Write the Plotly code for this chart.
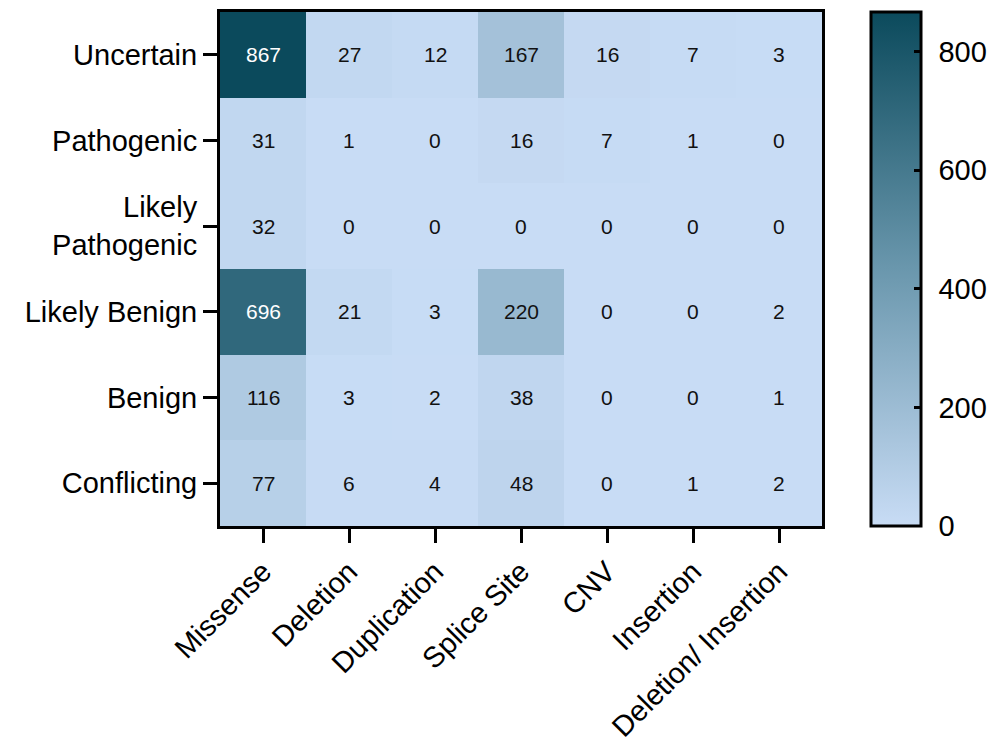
import plotly.graph_objects as go

variant_types = ["Missense", "Deletion", "Duplication", "Splice Site", "CNV", "Insertion", "Deletion/ Insertion"]
classes = ["Uncertain", "Pathogenic", "Likely<br>Pathogenic", "Likely Benign", "Benign", "Conflicting"]
counts = [
    [867, 27, 12, 167, 16, 7, 3],
    [31, 1, 0, 16, 7, 1, 0],
    [32, 0, 0, 0, 0, 0, 0],
    [696, 21, 3, 220, 0, 0, 2],
    [116, 3, 2, 38, 0, 0, 1],
    [77, 6, 4, 48, 0, 1, 2],
]
cbar_ticks = [0, 200, 400, 600, 800]

zmax = max(max(r) for r in counts)
colorscale = [[0.0, "#c8dcf5"], [0.5, "#6a97ad"], [1.0, "#0b4a5c"]]
FONT = "Liberation Sans, Arial"

W, H = 1007, 744
ML, MR, MT, MB = 212, 193, 4, 226
plot_w = W - ML - MR
CB_X = 1.081
CB_TICKLEN = 8

fig = go.Figure()
fig.add_trace(go.Heatmap(
    z=counts, x=variant_types, y=classes,
    colorscale=colorscale, zmin=0, zmax=zmax,
    colorbar=dict(
        x=CB_X, xanchor="left", y=0.5, yanchor="middle", len=1.0, lenmode="fraction",
        thickness=50, outlinewidth=3, outlinecolor="black",
        tickvals=cbar_ticks, ticktext=["\u2004" + str(t) for t in cbar_ticks],
        ticks="inside", ticklen=CB_TICKLEN, tickwidth=3, tickcolor="black",
        tickfont=dict(size=29, color="black", family=FONT),
        ypad=0, xpad=0,
    ),
    showscale=True,
))

annotations = []
for i, row in enumerate(counts):
    for j, v in enumerate(row):
        annotations.append(dict(
            x=variant_types[j], y=classes[i], text=str(v), showarrow=False,
            font=dict(size=21, family=FONT,
                      color="white" if v > 0.6 * zmax else "#111111"),
        ))

# left-side tick marks of the colour bar (mirroring the inside ticks)
shapes = []
for t in cbar_ticks[1:]:
    shapes.append(dict(
        type="line", xref="paper", yref="paper",
        x0=CB_X, x1=CB_X + CB_TICKLEN / plot_w, y0=t / zmax, y1=t / zmax,
        line=dict(color="black", width=3),
    ))

fig.update_layout(
    width=W, height=H,
    margin=dict(l=ML, r=MR, t=MT, b=MB, autoexpand=False),
    paper_bgcolor="white", plot_bgcolor="white",
    annotations=annotations,
    shapes=shapes,
    font=dict(family=FONT, color="black"),
    xaxis=dict(
        tickangle=-45, tickfont=dict(size=29), ticks="outside", ticklen=14, tickwidth=3,
        tickcolor="black", showline=True, linewidth=3, linecolor="black", mirror=True,
        showgrid=False, zeroline=False, automargin=False,
    ),
    yaxis=dict(
        autorange="reversed", tickfont=dict(size=29), ticks="outside", ticklen=14, tickwidth=3,
        tickcolor="black", showline=True, linewidth=3, linecolor="black", mirror=True,
        showgrid=False, zeroline=False, automargin=False,
    ),
)

fig.write_html("out.html")
